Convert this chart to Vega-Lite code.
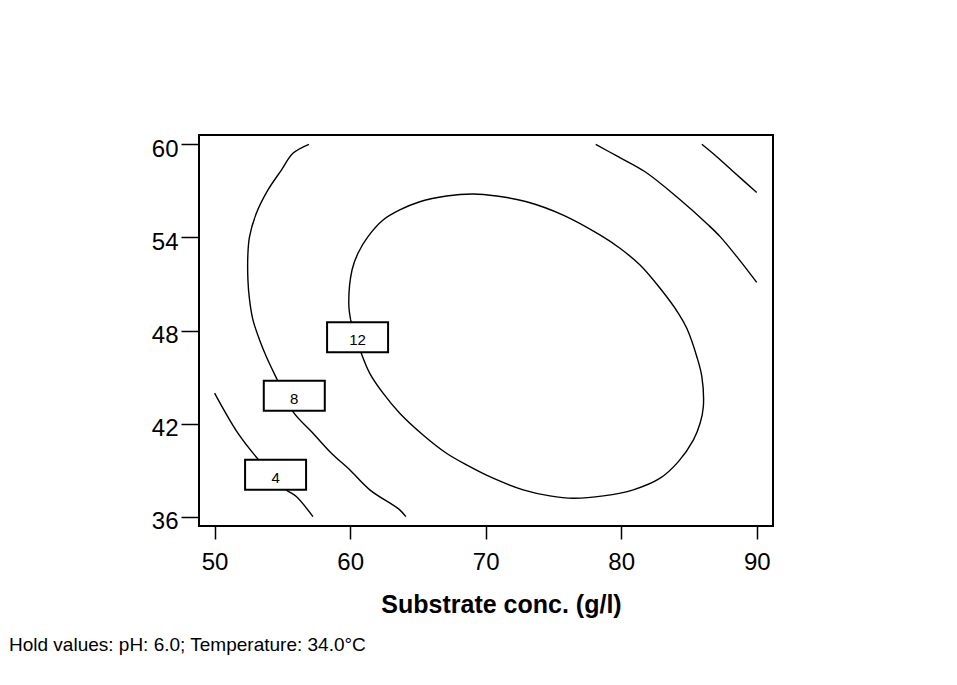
{
  "$schema": "https://vega.github.io/schema/vega-lite/v6.json",
  "autosize": {"type": "none"},
  "padding": {"left": 199, "top": 135, "right": 184, "bottom": 159},
  "width": 574,
  "height": 391,
  "background": "white",
  "title": {
    "text": "Hold values: pH: 6.0; Temperature: 34.0°C",
    "orient": "bottom",
    "anchor": "start",
    "frame": "group",
    "dx": -190,
    "offset": 19,
    "font": "Liberation Sans",
    "fontSize": 19,
    "fontWeight": "normal",
    "color": "black"
  },
  "config": {
    "view": {"stroke": "black", "strokeWidth": 2},
    "axis": {
      "domain": false,
      "grid": false,
      "tickColor": "black",
      "tickWidth": 1.5,
      "labelColor": "black",
      "labelFont": "Liberation Sans",
      "labelFontSize": 24,
      "titleFont": "Liberation Sans",
      "titleColor": "black"
    }
  },
  "datasets": {
    "contours": [
      {"curve": "c4", "i": 1, "x": 50.0, "y": 43.96},
      {"curve": "c4", "i": 2, "x": 51.72, "y": 41.38},
      {"curve": "c4", "i": 3, "x": 53.25, "y": 39.66},
      {"curve": "c4", "i": 4, "x": 55.30, "y": 37.73},
      {"curve": "c4", "i": 5, "x": 56.03, "y": 37.30},
      {"curve": "c4", "i": 6, "x": 57.26, "y": 36.0},

      {"curve": "c8", "i": 1, "x": 56.96, "y": 60.0},
      {"curve": "c8", "i": 2, "x": 55.78, "y": 59.42},
      {"curve": "c8", "i": 3, "x": 54.93, "y": 58.34},
      {"curve": "c8", "i": 4, "x": 53.94, "y": 57.06},
      {"curve": "c8", "i": 5, "x": 53.08, "y": 55.55},
      {"curve": "c8", "i": 6, "x": 52.58, "y": 54.05},
      {"curve": "c8", "i": 7, "x": 52.46, "y": 52.98},
      {"curve": "c8", "i": 8, "x": 52.46, "y": 51.26},
      {"curve": "c8", "i": 9, "x": 52.58, "y": 49.97},
      {"curve": "c8", "i": 10, "x": 52.83, "y": 48.68},
      {"curve": "c8", "i": 11, "x": 53.32, "y": 47.39},
      {"curve": "c8", "i": 12, "x": 53.82, "y": 46.31},
      {"curve": "c8", "i": 13, "x": 54.63, "y": 44.81},
      {"curve": "c8", "i": 14, "x": 55.78, "y": 42.77},
      {"curve": "c8", "i": 15, "x": 57.26, "y": 41.38},
      {"curve": "c8", "i": 16, "x": 58.62, "y": 40.09},
      {"curve": "c8", "i": 17, "x": 59.97, "y": 39.02},
      {"curve": "c8", "i": 18, "x": 61.45, "y": 37.73},
      {"curve": "c8", "i": 19, "x": 63.66, "y": 36.44},
      {"curve": "c8", "i": 20, "x": 64.11, "y": 36.0},

      {"curve": "c12", "i": 1, "x": 60.04, "y": 48.68},
      {"curve": "c12", "i": 2, "x": 59.90, "y": 49.76},
      {"curve": "c12", "i": 3, "x": 60.14, "y": 51.90},
      {"curve": "c12", "i": 4, "x": 60.58, "y": 52.98},
      {"curve": "c12", "i": 5, "x": 61.32, "y": 54.05},
      {"curve": "c12", "i": 6, "x": 62.43, "y": 55.12},
      {"curve": "c12", "i": 7, "x": 63.66, "y": 55.77},
      {"curve": "c12", "i": 8, "x": 65.14, "y": 56.30},
      {"curve": "c12", "i": 9, "x": 67.11, "y": 56.67},
      {"curve": "c12", "i": 10, "x": 69.08, "y": 56.80},
      {"curve": "c12", "i": 11, "x": 70.81, "y": 56.67},
      {"curve": "c12", "i": 12, "x": 73.02, "y": 56.30},
      {"curve": "c12", "i": 13, "x": 75.72, "y": 55.44},
      {"curve": "c12", "i": 14, "x": 78.43, "y": 54.16},
      {"curve": "c12", "i": 15, "x": 79.91, "y": 53.30},
      {"curve": "c12", "i": 16, "x": 81.39, "y": 52.22},
      {"curve": "c12", "i": 17, "x": 82.87, "y": 50.72},
      {"curve": "c12", "i": 18, "x": 84.22, "y": 49.11},
      {"curve": "c12", "i": 19, "x": 84.84, "y": 48.14},
      {"curve": "c12", "i": 20, "x": 85.58, "y": 46.31},
      {"curve": "c12", "i": 21, "x": 85.95, "y": 45.03},
      {"curve": "c12", "i": 22, "x": 86.06, "y": 43.09},
      {"curve": "c12", "i": 23, "x": 85.82, "y": 42.02},
      {"curve": "c12", "i": 24, "x": 85.33, "y": 40.95},
      {"curve": "c12", "i": 25, "x": 84.22, "y": 39.55},
      {"curve": "c12", "i": 26, "x": 82.87, "y": 38.48},
      {"curve": "c12", "i": 27, "x": 80.89, "y": 37.73},
      {"curve": "c12", "i": 28, "x": 78.68, "y": 37.34},
      {"curve": "c12", "i": 29, "x": 76.46, "y": 37.19},
      {"curve": "c12", "i": 30, "x": 74.74, "y": 37.34},
      {"curve": "c12", "i": 31, "x": 72.77, "y": 37.73},
      {"curve": "c12", "i": 32, "x": 70.55, "y": 38.48},
      {"curve": "c12", "i": 33, "x": 68.59, "y": 39.34},
      {"curve": "c12", "i": 34, "x": 67.11, "y": 40.09},
      {"curve": "c12", "i": 35, "x": 65.38, "y": 41.27},
      {"curve": "c12", "i": 36, "x": 63.66, "y": 42.67},
      {"curve": "c12", "i": 37, "x": 62.43, "y": 43.96},
      {"curve": "c12", "i": 38, "x": 61.45, "y": 45.24},
      {"curve": "c12", "i": 39, "x": 60.78, "y": 46.64},
      {"curve": "c12", "i": 40, "x": 60.04, "y": 48.68},

      {"curve": "c8b", "i": 1, "x": 78.12, "y": 60.0},
      {"curve": "c8b", "i": 2, "x": 79.67, "y": 59.25},
      {"curve": "c8b", "i": 3, "x": 81.76, "y": 58.23},
      {"curve": "c8b", "i": 4, "x": 84.22, "y": 56.52},
      {"curve": "c8b", "i": 5, "x": 86.43, "y": 54.80},
      {"curve": "c8b", "i": 6, "x": 87.30, "y": 54.05},
      {"curve": "c8b", "i": 7, "x": 88.53, "y": 52.76},
      {"curve": "c8b", "i": 8, "x": 90.0, "y": 51.1},

      {"curve": "c4b", "i": 1, "x": 85.95, "y": 60.0},
      {"curve": "c4b", "i": 2, "x": 87.05, "y": 59.2},
      {"curve": "c4b", "i": 3, "x": 88.28, "y": 58.23},
      {"curve": "c4b", "i": 4, "x": 90.0, "y": 56.9}
    ],
    "labels": [
      {"label": "12", "x": 60.55, "y": 47.57},
      {"label": "8", "x": 55.88, "y": 43.80},
      {"label": "4", "x": 54.5, "y": 38.7}
    ]
  },
  "layer": [
    {
      "data": {"name": "contours"},
      "mark": {"type": "line", "color": "black", "strokeWidth": 1.4, "interpolate": "catmull-rom"},
      "encoding": {
        "x": {
          "field": "x", "type": "quantitative",
          "scale": {"domain": [48.85, 91.2], "nice": false, "zero": false},
          "axis": {
            "values": [50, 60, 70, 80, 90],
            "tickSize": 13,
            "labelPadding": 11,
            "title": "Substrate conc. (g/l)",
            "titleFontSize": 25,
            "titleFontWeight": "bold",
            "titleX": 302,
            "titleY": 86,
            "titleBaseline": "alphabetic",
            "titleAlign": "center",
            "titleAnchor": null
          }
        },
        "y": {
          "field": "y", "type": "quantitative",
          "scale": {"domain": [35.4, 60.6], "nice": false, "zero": false},
          "axis": {
            "values": [36, 42, 48, 54, 60],
            "tickSize": 18,
            "labelPadding": 3,
            "labelOffset": 5,
            "title": null
          }
        },
        "detail": {"field": "curve"},
        "order": {"field": "i", "type": "quantitative"}
      }
    },
    {
      "data": {"name": "labels"},
      "mark": {"type": "rect", "width": 61, "height": 30, "fill": "white", "stroke": "black", "strokeWidth": 2},
      "encoding": {
        "x": {"field": "x", "type": "quantitative"},
        "y": {"field": "y", "type": "quantitative"}
      }
    },
    {
      "data": {"name": "labels"},
      "mark": {"type": "text", "font": "Liberation Sans", "fontSize": 15, "color": "black", "dy": 3},
      "encoding": {
        "x": {"field": "x", "type": "quantitative"},
        "y": {"field": "y", "type": "quantitative"},
        "text": {"field": "label"}
      }
    }
  ]
}
